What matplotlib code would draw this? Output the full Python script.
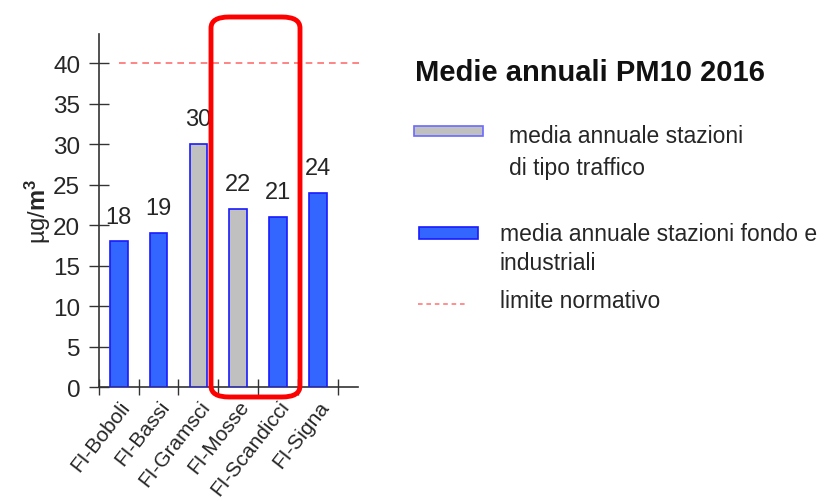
import matplotlib
matplotlib.use("Agg")
import matplotlib.pyplot as plt
from matplotlib.patches import Rectangle, FancyBboxPatch
from matplotlib.lines import Line2D

plt.rcParams['font.family'] = ['Liberation Sans', 'DejaVu Sans']
plt.rcParams['mathtext.fontset'] = 'custom'
plt.rcParams['mathtext.rm'] = 'Liberation Sans'
plt.rcParams['mathtext.bf'] = 'Liberation Sans:bold'

# PM10 annual means per station
stations = ["FI-Boboli", "FI-Bassi", "FI-Gramsci", "FI-Mosse", "FI-Scandicci", "FI-Signa"]
values = [18, 19, 30, 22, 21, 24]
traffic = [False, False, True, True, False, False]
limit = 40

blue_fill = "#3366ff"
blue_edge = "#1a1aff"
grey_fill = "#c0c0c0"
text_col = "#262626"

fig = plt.figure(figsize=(8.24, 5.02), dpi=100)
ax = fig.add_axes([0.120, 0.227, 0.314, 0.703])

x = list(range(len(stations)))
colors = [grey_fill if t else blue_fill for t in traffic]
ax.bar(x, values, width=0.44, color=colors, edgecolor=blue_edge, linewidth=1.2, zorder=3)
for xi, v in zip(x, values):
    ax.text(xi, v + 1.7, str(v), ha="center", va="bottom", fontsize=17, color=text_col)

ax.plot([0, 6.05], [limit, limit], color="#ff7070", linestyle=(0, (4, 3)), linewidth=1.2,
        clip_on=False, zorder=2)

ax.set_xlim(-0.5, 6.0)
ax.set_ylim(0, 43.6)
ax.set_yticks(range(0, 45, 5))
ax.tick_params(axis="y", direction="inout", length=15, width=1, color="#333333",
               labelsize=17.5, labelcolor=text_col, pad=6)
ax.set_xticks([i - 0.5 for i in range(len(stations) + 1)], minor=False)
ax.set_xticklabels([])
ax.tick_params(axis="x", direction="inout", length=12, width=1, color="#333333")
ax.set_xticks(x, minor=True)
ax.set_xticklabels(stations, minor=True, rotation=52, ha="right", rotation_mode="anchor",
                   fontsize=15, color=text_col)
ax.tick_params(axis="x", which="minor", length=0, pad=7)

for side in ("top", "right"):
    ax.spines[side].set_visible(False)
for side in ("left", "bottom"):
    ax.spines[side].set_color("#333333")
    ax.spines[side].set_linewidth(1.2)

ax.set_ylabel(r"µg/$\mathbf{m^3}$", fontsize=17, color=text_col, labelpad=0)

# highlight box around the two stations
fig.patches.append(FancyBboxPatch((211 / 824, 1 - 398 / 502), 89 / 824, 380 / 502,
                                  boxstyle="round,pad=0,rounding_size=0.022",
                                  transform=fig.transFigure, fill=False,
                                  edgecolor="#ff0000", linewidth=3.5, zorder=10))

# legend block on the right
fig.text(415 / 824, 1 - 73 / 502, "Medie annuali PM10 2016", fontsize=21, fontweight="bold",
         color="#111111", va="center")
fig.patches.append(Rectangle((414 / 824, 1 - 137 / 502), 69 / 824, 10 / 502,
                             transform=fig.transFigure, facecolor=grey_fill,
                             edgecolor="#6a6aff", linewidth=1.2))
fig.text(509 / 824, 1 - 153 / 502, "media annuale stazioni\ndi tipo traffico", fontsize=16.5,
         color=text_col, va="center", linespacing=1.5)
fig.patches.append(Rectangle((419 / 824, 1 - 240 / 502), 59 / 824, 12 / 502,
                             transform=fig.transFigure, facecolor=blue_fill,
                             edgecolor=blue_edge, linewidth=1.2))
fig.text(500 / 824, 1 - 249 / 502, "media annuale stazioni fondo e\nindustriali", fontsize=16.5,
         color=text_col, va="center", linespacing=1.3)
fig.lines.append(Line2D([418 / 824, 468 / 824], [1 - 305 / 502, 1 - 305 / 502],
                        transform=fig.transFigure, color="#ff7070",
                        linestyle=(0, (3, 2.5)), linewidth=1.1))
fig.text(500 / 824, 1 - 302 / 502, "limite normativo", fontsize=16.5, color=text_col, va="center")

fig.savefig("out.png", dpi=100)
